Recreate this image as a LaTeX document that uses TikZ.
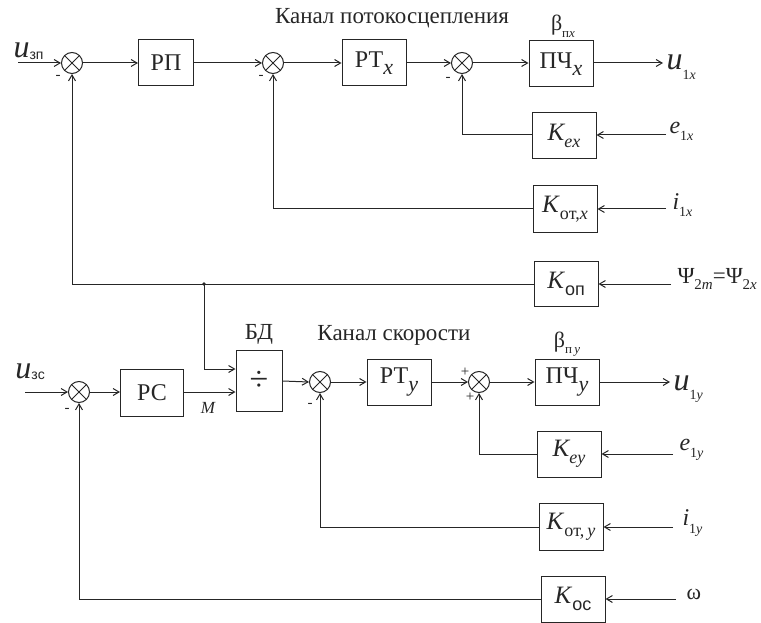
\documentclass[tikz,border=0pt]{standalone}
\usepackage{fontspec}
\setmainfont{Liberation Serif}
\newfontfamily\sansf{Liberation Sans}
\usetikzlibrary{arrows.meta}
\newcommand{\fs}[1]{\fontsize{#1}{#1}\selectfont}
\newcommand{\lsub}[2][15]{\raisebox{-0.3em}{\fs{#1}#2}}
\newcommand{\usub}[2][14]{\raisebox{-0.05em}{\fs{#1}#2}}
\begin{document}
\begin{tikzpicture}[x=1pt,y=-1pt, line width=1pt, color=black!85,
  >={Straight Barb[length=6pt,width=7pt]},
  blk/.style={draw, minimum width=64pt, minimum height=46pt, inner sep=0pt, font=\fs{24}},
  sum/.style={circle, draw, minimum size=21pt, inner sep=0pt,
    path picture={\draw[line width=0.8pt] (path picture bounding box.north west)--(path picture bounding box.south east)
      (path picture bounding box.north east)--(path picture bounding box.south west);}},
  sgn/.style={inner sep=0pt, font=\fs{15}},
  txt/.style={inner sep=0pt}]
\useasboundingbox (0,0) rectangle (761,623);

% ---------- flux channel ----------
\node[txt] (t1) at (392,18) {\fs{23}Канал потокосцепления};
\node[sum] (s1) at (72,63) {};
\node[blk, minimum width=55pt] (RP) at (166,63) {РП};
\node[sum] (s2) at (273,63) {};
\node[blk] (RTx) at (374,63) {РТ\lsub[22]{\itshape x}};
\node[sum] (s3) at (462,63) {};
\node[blk] (PCHx) at (561,64) {ПЧ\lsub[22]{\itshape x}};
\node[txt] (bx) at (563,26) {\fs{22}β\lsub[13]{п\textit{x}}};

\node[blk] (Kex) at (564,136) {\fs{25}\itshape K\lsub[18]{ex}};
\node[blk, minimum height=47pt] (Kotx) at (565,209) {\fs{25}\textit{K}\lsub[18]{от,\textit{x}}};
\node[blk, minimum height=45pt] (Kop) at (566,284) {\fs{25}\textit{K}\lsub[18]{\sansf оп}};

\node[txt, anchor=base west] (uzp) at (13,58) {\fs{32}\itshape u\usub{\sansf\upshape зп}};
\coordinate (iuzp) at (18,63);
\node[sgn] (m1) at (58,77) {-};
\node[sgn] (m2) at (261,77) {-};
\node[sgn] (m3) at (448,79) {-};

\coordinate (ou1x) at (663,63);
\node[txt, anchor=base west] (u1x) at (666,70) {\fs{32}\itshape u\lsub[14]{\upshape 1\itshape x}};
\coordinate (iex) at (666,135);
\node[txt, anchor=west] (e1x) at (669,131) {\fs{24}\itshape e\lsub[14]{\upshape 1\itshape x}};
\coordinate (iix) at (666,209);
\node[txt, anchor=west] (i1x) at (672,205) {\fs{24}\itshape i\lsub[14]{\upshape 1\itshape x}};
\coordinate (ipsi) at (671,284);
\node[txt, anchor=west] (psi) at (677,279) {\fs{23}Ψ\lsub[15]{2\itshape m}=Ψ\lsub[15]{2\itshape x}};

\draw[->] (iuzp) -- (s1.west);
\draw[->] (s1.east) -- (RP.west);
\draw[->] (RP.east) -- (s2.west);
\draw[->] (s2.east) -- (RTx.west);
\draw[->] (RTx.east) -- (s3.west);
\draw[->] (s3.east) -- (PCHx.west |- s3.east);
\draw[->] (PCHx.east |- s3.east) -- (ou1x);
\draw[->] (iex) -- (Kex.east |- iex);
\draw[->] (Kex.west |- iex) -| (s3.south);
\draw[->] (iix) -- (Kotx.east);
\draw[->] (Kotx.west) -| (s2.south);
\draw[->] (ipsi) -- (Kop.east);
\coordinate (j) at (204,284);
\draw[->] (Kop.west) -| (s1.south);
\fill (j) circle (1.8pt);

% ---------- speed channel ----------
\node[txt] (t2) at (394,335) {\fs{23}Канал скорости};
\node[txt] (tbd) at (259,334) {\fs{23}БД};
\node[sum] (s4) at (79,392) {};
\node[blk, minimum width=63pt, minimum height=47pt] (PC) at (152,393) {РС};
\node[blk, minimum width=46pt, minimum height=61pt] (BD) at (259,381) {\fs{34}÷};
\node[sum] (s5) at (320,382) {};
\node[blk] (RTy) at (399,382) {РТ\lsub[22]{\itshape y}};
\node[sum] (s6) at (479,382) {};
\node[blk] (PCHy) at (567,382) {ПЧ\lsub[22]{\itshape y}};
\node[txt] (by) at (567,344) {\fs{22}β\lsub[13]{п\,\textit{y}}};
\node[txt] (M) at (208,408) {\fs{17}\itshape M};

\node[blk] (Key) at (569,454) {\fs{25}\itshape K\lsub[18]{ey}};
\node[blk, minimum height=47pt] (Koty) at (571,527) {\fs{25}\textit{K}\lsub[18]{от,\,\textit{y}}};
\node[blk] (Kos) at (573,599) {\fs{25}\textit{K}\lsub[18]{\sansf ос}};

\node[txt, anchor=base west] (uzs) at (15,378) {\fs{32}\itshape u\usub{\sansf\upshape зс}};
\coordinate (iuzs) at (25,392);
\node[sgn] (m4) at (67,410) {-};
\node[sgn] (m5) at (310,405) {-};
\node[sgn] (p1) at (465,372) {+};
\node[sgn] (p2) at (470,397) {+};

\coordinate (ou1y) at (670,382);
\node[txt, anchor=base west] (u1y) at (673,390) {\fs{32}\itshape u\lsub[14]{\upshape 1\itshape y}};
\coordinate (iey) at (673,454);
\node[txt, anchor=west] (e1y) at (679,450) {\fs{24}\itshape e\lsub[14]{\upshape 1\itshape y}};
\coordinate (iiy) at (673,527);
\node[txt, anchor=west] (i1y) at (682,523) {\fs{24}\itshape i\lsub[14]{\upshape 1\itshape y}};
\coordinate (iom) at (676,599);
\node[txt, anchor=west] (om) at (686,594) {\fs{22}ω};

\draw[->] (iuzs) -- (s4.west);
\draw[->] (s4.east) -- (s4.east -| PC.west);
\draw[->] (PC.east |- s4.east) -- (s4.east -| BD.west);
\draw[->] (j) |- ([yshift=12pt]BD.west);
\draw[->] (BD.east) -- (s5.west);
\draw[->] (s5.east) -- (RTy.west);
\draw[->] (RTy.east) -- (s6.west);
\draw[->] (s6.east) -- (PCHy.west);
\draw[->] (PCHy.east) -- (ou1y);
\draw[->] (iey) -- (Key.east);
\draw[->] (Key.west) -| (s6.south);
\draw[->] (iiy) -- (Koty.east);
\draw[->] (Koty.west) -| (s5.south);
\draw[->] (iom) -- (Kos.east);
\draw[->] (Kos.west) -| (s4.south);
\end{tikzpicture}
\end{document}
